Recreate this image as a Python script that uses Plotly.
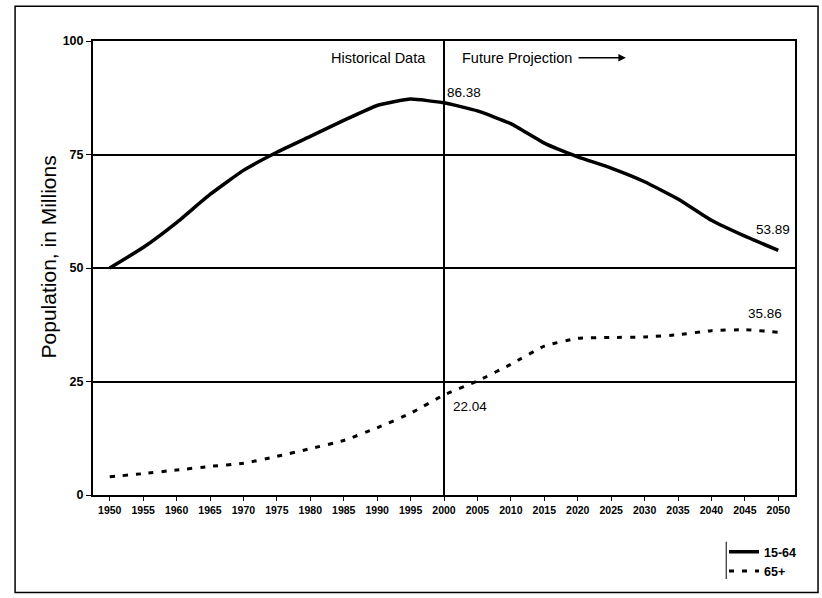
import plotly.graph_objects as go

years = [1950, 1955, 1960, 1965, 1970, 1975, 1980, 1985, 1990, 1995, 2000,
         2005, 2010, 2015, 2020, 2025, 2030, 2035, 2040, 2045, 2050]
pop_15_64 = [50.0, 54.5, 60.0, 66.2, 71.5, 75.5, 79.0, 82.5, 85.8, 87.2, 86.38,
             84.6, 81.8, 77.5, 74.5, 72.0, 69.0, 65.2, 60.5, 57.0, 53.89]
pop_65 = [4.0, 4.7, 5.5, 6.3, 7.0, 8.5, 10.2, 12.0, 14.8, 18.0, 22.04,
          25.1, 28.8, 32.8, 34.5, 34.7, 34.8, 35.3, 36.2, 36.4, 35.86]
y_ticks = [0, 25, 50, 75, 100]
split_year = 2000

FONT = "Liberation Sans, Arial, sans-serif"

fig = go.Figure()
fig.add_trace(go.Scatter(x=years, y=pop_15_64, mode="lines", name="15-64",
                         line=dict(color="black", width=3.5, shape="spline", smoothing=0.4)))
fig.add_trace(go.Scatter(x=years, y=pop_65, mode="lines", name="65+",
                         line=dict(color="black", width=3, dash="5px,8px", shape="spline", smoothing=0.4)))

# vertical divider between historical and projection
fig.add_shape(type="line", xref="x", yref="paper", x0=split_year, x1=split_year, y0=0, y1=1,
              line=dict(color="black", width=2))

# outer border
fig.add_shape(type="rect", xref="paper", yref="paper", x0=-0.111, x1=1.0328, y0=-0.2149, y1=1.0768,
              line=dict(color="black", width=1.5))
# left edge of legend box
fig.add_shape(type="line", xref="paper", yref="paper", x0=0.902, x1=0.902, y0=-0.103, y1=-0.185,
              line=dict(color="black", width=1))

ann_font = dict(family=FONT, size=13.5, color="black")
hdr_font = dict(family=FONT, size=14.5, color="black")
fig.add_annotation(x=split_year, y=100, xref="x", yref="y", text="Historical Data", showarrow=False,
                   xanchor="right", yanchor="top", xshift=-16, yshift=-7, font=hdr_font)
fig.add_annotation(x=split_year, y=100, xref="x", yref="y", text="Future Projection", showarrow=False,
                   xanchor="left", yanchor="top", xshift=16, yshift=-7, font=hdr_font)
fig.add_annotation(x=2027.2, y=96.3, ax=2019.9, ay=96.3, xref="x", yref="y", axref="x", ayref="y",
                   text="", showarrow=True, arrowhead=2, arrowsize=1, arrowwidth=1.5, arrowcolor="black")

fig.add_annotation(x=split_year, y=pop_15_64[years.index(split_year)], text="86.38", showarrow=False,
                   xanchor="left", yanchor="bottom", xshift=1, yshift=1, font=ann_font)
fig.add_annotation(x=split_year, y=pop_65[years.index(split_year)], text="22.04", showarrow=False,
                   xanchor="left", yanchor="top", xshift=7, yshift=-2, font=ann_font)
fig.add_annotation(x=years[-1], y=pop_15_64[-1], text="53.89", showarrow=False,
                   xanchor="right", yanchor="bottom", xshift=14, yshift=11, font=ann_font)
fig.add_annotation(x=years[-1], y=pop_65[-1], text="35.86", showarrow=False,
                   xanchor="right", yanchor="bottom", xshift=6, yshift=9, font=ann_font)

# y-axis title
fig.add_annotation(xref="paper", yref="paper", x=-0.063, y=0.525, text="Population, in Millions",
                   textangle=-90, showarrow=False, xanchor="center", yanchor="middle",
                   font=dict(family=FONT, size=21, color="black"))

fig.update_layout(
    width=822, height=598,
    margin=dict(l=93, r=27, t=41, b=101),
    paper_bgcolor="white", plot_bgcolor="white",
    font=dict(family=FONT, color="black"),
    showlegend=True,
    legend=dict(x=1.01, y=-0.093, xanchor="right", yanchor="top", bgcolor="rgba(0,0,0,0)",
                font=dict(family=FONT, size=12.5, color="black", weight="bold"),
                itemwidth=30, tracegroupgap=0),
    xaxis=dict(range=[1947.5, 2052.5], tickmode="array", tickvals=years,
               ticktext=[str(y) for y in years],
               tickfont=dict(family=FONT, size=10.5, color="black", weight="bold"),
               showgrid=False, zeroline=False, showline=True, linecolor="black", linewidth=2, mirror=True,
               ticks="outside", ticklen=4, tickcolor="black", tickwidth=1),
    yaxis=dict(range=[0, 100], tickmode="array", tickvals=y_ticks,
               ticktext=[str(v) for v in y_ticks],
               tickfont=dict(family=FONT, size=12.5, color="black", weight="bold"),
               showgrid=True, gridcolor="black", gridwidth=2, zeroline=False,
               showline=True, linecolor="black", linewidth=2, mirror=True,
               ticks="outside", ticklen=5, tickcolor="black"),
)

fig.write_html("out.html", config={"displayModeBar": False},
               post_script="document.body.style.margin='0px';")
